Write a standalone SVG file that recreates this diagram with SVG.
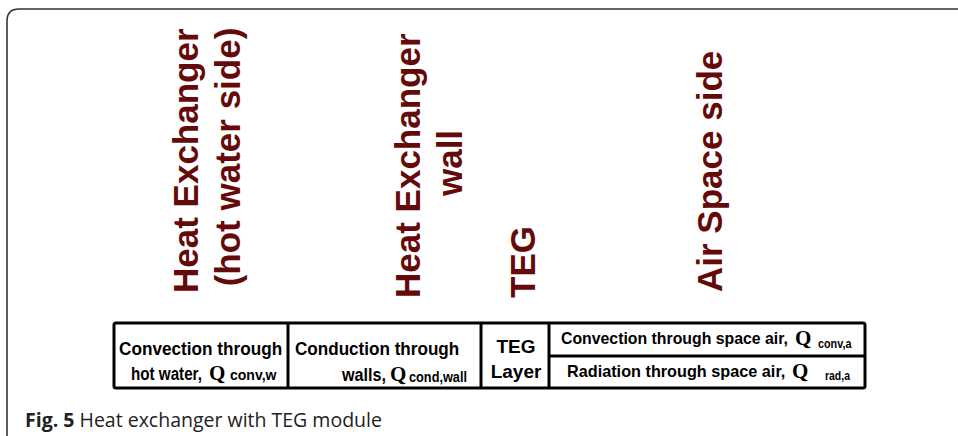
<svg xmlns="http://www.w3.org/2000/svg" width="958" height="436" viewBox="0 0 958 436">
<style>
.title{font-family:"Liberation Sans",Arial,sans-serif;font-weight:bold;font-size:35px;fill:#650a0a}
.cell{font-family:"Liberation Sans",Arial,sans-serif;font-weight:bold;font-size:19px;fill:#000}
.cellr{font-family:"Liberation Sans",Arial,sans-serif;font-weight:bold;font-size:16.5px;fill:#000}
.q{font-family:"Liberation Serif","Times New Roman",serif;font-weight:bold;font-size:21px;fill:#000}
.sub{font-family:"Liberation Sans",Arial,sans-serif;font-weight:bold;font-size:14px;fill:#000}
.subr{font-family:"Liberation Sans",Arial,sans-serif;font-weight:bold;font-size:12px;fill:#000}
.box{fill:#fff;stroke:#000;stroke-width:3}
.line{stroke:#000;stroke-width:3}
.cap{font-family:"Open Sans","Noto Sans",sans-serif;font-size:19.5px;fill:#222}
</style>
<rect width="958" height="436" fill="#fff"/>
<path d="M7 436 L7 21 Q7 9 19 9 L958 9" fill="none" stroke="#333" stroke-width="1.6"/>

<g id="title-hx-hot">
<text class="title" transform="translate(198,293) rotate(-90)">Heat Exchanger</text>
<text class="title" text-anchor="middle" transform="translate(240,157) rotate(-90)">(hot water side)</text>
</g>
<g id="title-hx-wall">
<text class="title" transform="translate(420,298) rotate(-90)">Heat Exchanger</text>
<text class="title" text-anchor="middle" transform="translate(462,163) rotate(-90)">wall</text>
</g>
<g id="title-teg">
<text class="title" transform="translate(535,298) rotate(-90)">TEG</text>
</g>
<g id="title-air">
<text class="title" transform="translate(722,292) rotate(-90)">Air Space side</text>
</g>

<g id="table">
<rect class="box" x="114" y="323" width="751" height="65" rx="2"/>
<line class="line" x1="288" y1="323" x2="288" y2="388"/>
<line class="line" x1="481" y1="323" x2="481" y2="388"/>
<line class="line" x1="549" y1="323" x2="549" y2="388"/>
<line class="line" x1="549" y1="356" x2="865" y2="356"/>
</g>

<g id="cell-conv-water">
<text class="cell" transform="translate(119,355) scale(0.905,1)">Convection through</text>
<text class="cell" transform="translate(131,380) scale(0.8,1)">hot water,</text>
<text class="q" x="209" y="380">Q</text>
<text class="sub" x="230" y="380">conv,w</text>
</g>
<g id="cell-cond-wall">
<text class="cell" transform="translate(295,355) scale(0.9,1)">Conduction through</text>
<text class="cell" transform="translate(342,381) scale(0.85,1)">walls,</text>
<text class="q" x="390" y="381">Q</text>
<text class="sub" transform="translate(409,382) scale(0.91,1)">cond,wall</text>
</g>
<g id="cell-teg">
<text class="cell" x="516" y="353" text-anchor="middle">TEG</text>
<text class="cell" x="516" y="378" text-anchor="middle">Layer</text>
</g>
<g id="cell-conv-air">
<text class="cellr" transform="translate(561,344) scale(0.96,1)">Convection through space air,</text>
<text class="q" x="795" y="345">Q</text>
<text class="subr" transform="translate(818,348) scale(0.9,1)">conv,a</text>
</g>
<g id="cell-rad-air">
<text class="cellr" transform="translate(567,377) scale(0.985,1)">Radiation through space air,</text>
<text class="q" x="792" y="378">Q</text>
<text class="subr" transform="translate(825,380) scale(0.87,1)">rad,a</text>
</g>

<g id="caption">
<text class="cap" x="25" y="427"><tspan font-weight="bold">Fig. 5</tspan> Heat exchanger with TEG module</text>
</g>
</svg>
